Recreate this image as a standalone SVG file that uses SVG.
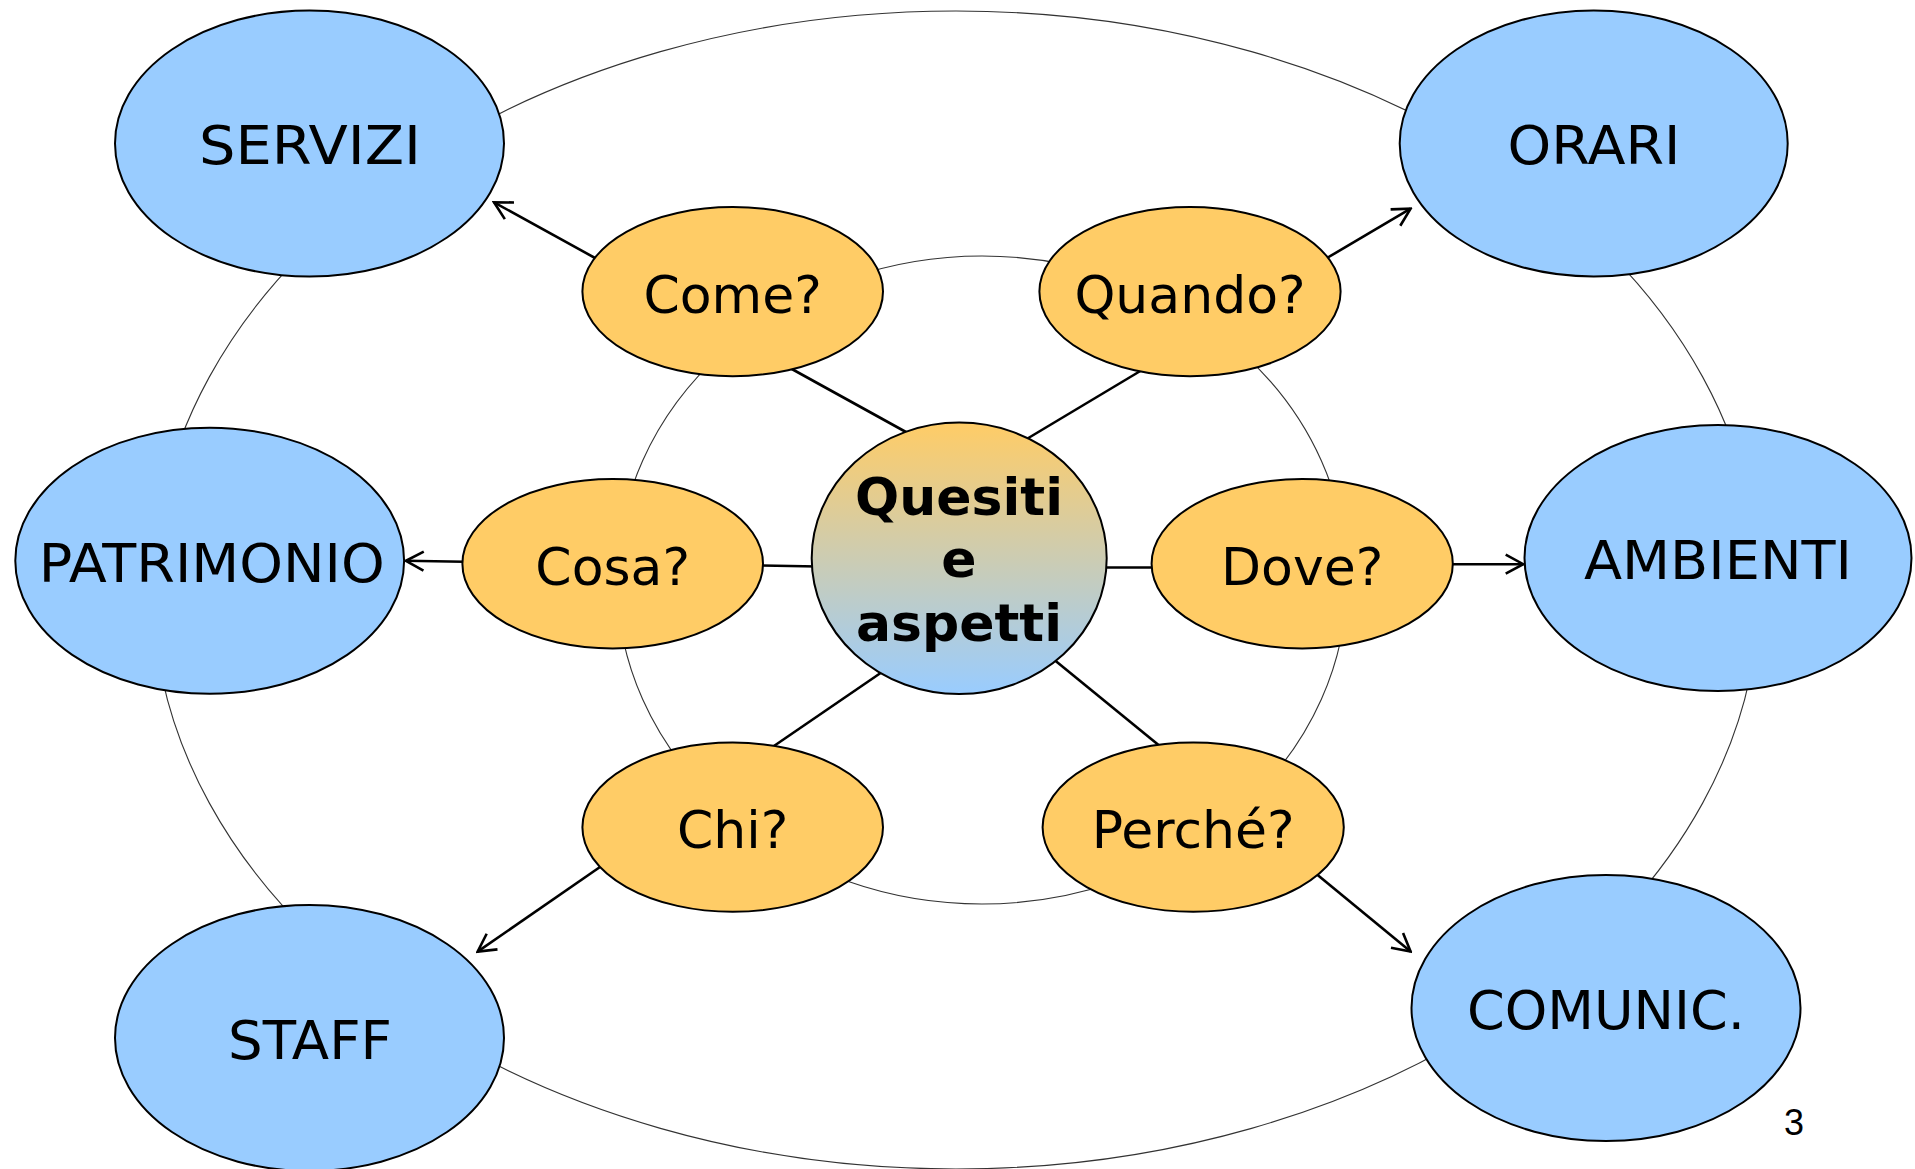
<svg xmlns="http://www.w3.org/2000/svg" width="1915" height="1169" viewBox="0 0 1915 1169">
<defs>
<style>
.bg{fill:#ffffff}
.arc{fill:none;stroke:#333333;stroke-width:1.1}
.link{stroke:#000000;stroke-width:2.6;fill:none}
.arrow{stroke:#000000;stroke-width:2.6;fill:none;marker-end:url(#open)}
.blue{fill:#99CCFF;stroke:#000000;stroke-width:2}
.orange{fill:#FFCC66;stroke:#000000;stroke-width:2}
.center{fill:url(#grad);stroke:#000000;stroke-width:2}
.lbl{font-family:"DejaVu Sans",Verdana,sans-serif;font-size:52px;fill:#000000;text-anchor:middle}
.big{font-size:53px}
.bold{font-weight:bold}
.num{font-family:"Liberation Sans",Arial,sans-serif;font-size:36px;fill:#000000;text-anchor:middle}
</style>
<linearGradient id="grad" x1="0" y1="0" x2="0" y2="1">
<stop offset="0" stop-color="#FFCC66"/>
<stop offset="1" stop-color="#99CCFF"/>
</linearGradient>
<marker id="open" markerUnits="userSpaceOnUse" viewBox="-21 -12 23 24" markerWidth="23" markerHeight="24" refX="0" refY="0" orient="auto">
<path d="M-17.6,-9.5 L0,0 L-17.6,9.5" fill="none" stroke="#000000" stroke-width="2.6" stroke-linejoin="miter"/>
</marker>
</defs>
<rect class="bg" x="0" y="0" width="1915" height="1169"/>
<g id="arcs">
<ellipse class="arc" cx="956" cy="590" rx="803" ry="579"/>
<ellipse class="arc" cx="982" cy="580" rx="365" ry="324"/>
</g>
<g id="connectors">
<line class="link" x1="915" y1="437" x2="790" y2="368"/>
<line class="link" x1="1020" y1="443" x2="1142" y2="370"/>
<line class="link" x1="758" y1="565.5" x2="818" y2="566.5"/>
<line class="link" x1="1100" y1="567.5" x2="1156" y2="567.5"/>
<line class="link" x1="771" y1="748" x2="885" y2="670"/>
<line class="link" x1="1052" y1="658" x2="1161" y2="747"/>
<line class="arrow" x1="596" y1="258.5" x2="494" y2="202.3"/>
<line class="arrow" x1="1327" y1="258" x2="1410.6" y2="208.6"/>
<line class="arrow" x1="464" y1="561.8" x2="406" y2="560.8"/>
<line class="arrow" x1="1451" y1="564.3" x2="1523.3" y2="564.2"/>
<line class="arrow" x1="600" y1="867" x2="477.6" y2="951.6"/>
<line class="arrow" x1="1317" y1="874.5" x2="1410.6" y2="951.6"/>
</g>
<g id="node-servizi">
<ellipse class="blue" cx="309.5" cy="143.5" rx="194.5" ry="133"/>
<text class="lbl big" x="310" y="163.5" textLength="222" lengthAdjust="spacingAndGlyphs">SERVIZI</text>
</g>
<g id="node-orari">
<ellipse class="blue" cx="1593.7" cy="143.5" rx="194" ry="133"/>
<text class="lbl big" x="1594" y="163.5" textLength="173" lengthAdjust="spacingAndGlyphs">ORARI</text>
</g>
<g id="node-patrimonio">
<ellipse class="blue" cx="209.7" cy="560.8" rx="194.4" ry="133"/>
<text class="lbl big" x="211.7" y="582" textLength="346" lengthAdjust="spacingAndGlyphs">PATRIMONIO</text>
</g>
<g id="node-ambienti">
<ellipse class="blue" cx="1718" cy="558" rx="193.5" ry="133"/>
<text class="lbl big" x="1718" y="579" textLength="268" lengthAdjust="spacingAndGlyphs">AMBIENTI</text>
</g>
<g id="node-staff">
<ellipse class="blue" cx="309.5" cy="1038" rx="194.5" ry="133"/>
<text class="lbl big" x="310" y="1059" textLength="164" lengthAdjust="spacingAndGlyphs">STAFF</text>
</g>
<g id="node-comunic">
<ellipse class="blue" cx="1606" cy="1008" rx="194.5" ry="133"/>
<text class="lbl big" x="1606" y="1029.3" textLength="278" lengthAdjust="spacingAndGlyphs">COMUNIC.</text>
</g>
<g id="node-come">
<ellipse class="orange" cx="732.7" cy="291.6" rx="150.3" ry="84.6"/>
<text class="lbl" x="732.7" y="312.7">Come?</text>
</g>
<g id="node-quando">
<ellipse class="orange" cx="1190" cy="291.6" rx="150.6" ry="84.6"/>
<text class="lbl" x="1190" y="312.7">Quando?</text>
</g>
<g id="node-cosa">
<ellipse class="orange" cx="612.7" cy="563.7" rx="150.3" ry="84.7"/>
<text class="lbl" x="612.7" y="584.8">Cosa?</text>
</g>
<g id="node-dove">
<ellipse class="orange" cx="1302.2" cy="563.7" rx="150.6" ry="84.7"/>
<text class="lbl" x="1302.2" y="584.8">Dove?</text>
</g>
<g id="node-chi">
<ellipse class="orange" cx="732.7" cy="827.2" rx="150.3" ry="84.6"/>
<text class="lbl" x="732.7" y="848.3">Chi?</text>
</g>
<g id="node-perche">
<ellipse class="orange" cx="1193.2" cy="827.2" rx="150.6" ry="84.6"/>
<text class="lbl" x="1193.2" y="848.3">Perché?</text>
</g>
<g id="node-center">
<ellipse class="center" cx="959.2" cy="558.3" rx="147.5" ry="135.7"/>
<text class="lbl bold" x="959" y="515">Quesiti</text>
<text class="lbl bold" x="959" y="577">e</text>
<text class="lbl bold" x="959" y="641">aspetti</text>
</g>
<g id="page-number">
<text class="num" x="1794" y="1135">3</text>
</g>
</svg>
